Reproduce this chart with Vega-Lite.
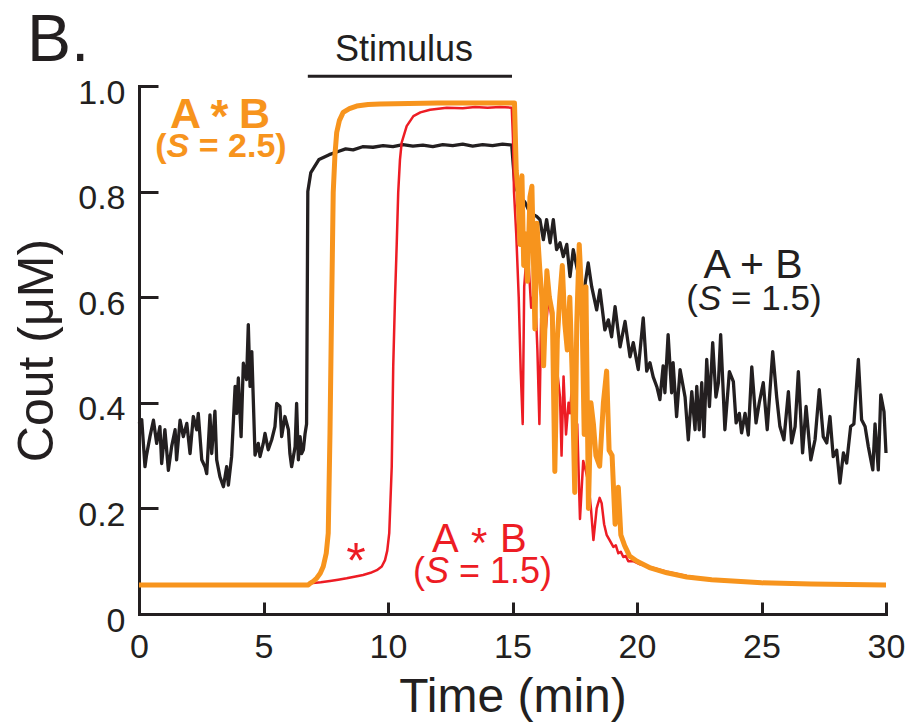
{
  "$schema": "https://vega.github.io/schema/vega-lite/v6.json",
  "width": 747,
  "height": 528,
  "autosize": {"type": "none"},
  "padding": {"left": 139, "top": 86, "right": 25, "bottom": 112},
  "background": "white",
  "config": {
    "view": {"stroke": null},
    "font": "Liberation Sans",
    "axis": {
      "grid": false,
      "domainColor": "#231f20",
      "domainWidth": 3,
      "domainCap": "square",
      "tickColor": "#231f20",
      "tickWidth": 3,
      "labelColor": "#231f20",
      "titleColor": "#231f20",
      "labelFont": "Liberation Sans",
      "titleFont": "Liberation Sans",
      "titleFontWeight": "normal",
      "labelFontSize": 34,
      "labelFlush": false,
      "labelOverlap": false
    }
  },
  "datasets": {
    "ab": [
      {"t":0.00,"v":0.36},{"t":0.11,"v":0.368},{"t":0.24,"v":0.279},{"t":0.30,"v":0.30},{"t":0.44,"v":0.336},{"t":0.58,"v":0.367},{"t":0.71,"v":0.323},{"t":0.84,"v":0.355},{"t":0.91,"v":0.285},{"t":1.04,"v":0.349},{"t":1.18,"v":0.272},{"t":1.31,"v":0.317},{"t":1.45,"v":0.349},{"t":1.51,"v":0.292},{"t":1.65,"v":0.367},{"t":1.78,"v":0.336},{"t":1.92,"v":0.361},{"t":2.05,"v":0.304},{"t":2.18,"v":0.374},{"t":2.32,"v":0.349},{"t":2.38,"v":0.380},{"t":2.52,"v":0.292},{"t":2.65,"v":0.279},{"t":2.72,"v":0.266},{"t":2.85,"v":0.377},{"t":2.92,"v":0.304},{"t":3.05,"v":0.384},{"t":3.12,"v":0.292},{"t":3.25,"v":0.260},{"t":3.39,"v":0.241},{"t":3.52,"v":0.279},{"t":3.59,"v":0.244},{"t":3.72,"v":0.298},{"t":3.86,"v":0.431},{"t":3.92,"v":0.380},{"t":3.99,"v":0.447},{"t":4.10,"v":0.336},{"t":4.19,"v":0.475},{"t":4.32,"v":0.444},{"t":4.39,"v":0.548},{"t":4.46,"v":0.431},{"t":4.53,"v":0.497},{"t":4.66,"v":0.301},{"t":4.79,"v":0.323},{"t":4.86,"v":0.298},{"t":4.99,"v":0.323},{"t":5.06,"v":0.342},{"t":5.19,"v":0.311},{"t":5.33,"v":0.330},{"t":5.46,"v":0.355},{"t":5.53,"v":0.399},{"t":5.66,"v":0.393},{"t":5.73,"v":0.336},{"t":5.86,"v":0.374},{"t":6.00,"v":0.349},{"t":6.06,"v":0.304},{"t":6.13,"v":0.279},{"t":6.27,"v":0.317},{"t":6.33,"v":0.399},{"t":6.40,"v":0.292},{"t":6.47,"v":0.336},{"t":6.53,"v":0.304},{"t":6.60,"v":0.311},{"t":6.67,"v":0.342},{"t":6.73,"v":0.36},{"t":6.78,"v":0.80},{"t":6.90,"v":0.836},{"t":7.23,"v":0.861},{"t":7.64,"v":0.870},{"t":8.0,"v":0.876},{"t":8.3,"v":0.881},{"t":8.6,"v":0.879},{"t":8.98,"v":0.885},{"t":9.4,"v":0.884},{"t":9.8,"v":0.887},{"t":10.2,"v":0.885},{"t":10.6,"v":0.889},{"t":11.0,"v":0.886},{"t":11.4,"v":0.888},{"t":11.8,"v":0.885},{"t":12.2,"v":0.889},{"t":12.6,"v":0.887},{"t":13.0,"v":0.890},{"t":13.4,"v":0.886},{"t":13.8,"v":0.889},{"t":14.2,"v":0.887},{"t":14.6,"v":0.890},{"t":14.97,"v":0.888},{"t":15.03,"v":0.85},{"t":15.10,"v":0.81},{"t":15.3,"v":0.79},{"t":15.5,"v":0.78},{"t":15.7,"v":0.76},{"t":15.97,"v":0.753},{"t":16.10,"v":0.747},{"t":16.24,"v":0.709},{"t":16.37,"v":0.747},{"t":16.51,"v":0.703},{"t":16.64,"v":0.747},{"t":16.77,"v":0.690},{"t":16.91,"v":0.703},{"t":17.04,"v":0.677},{"t":17.18,"v":0.700},{"t":17.31,"v":0.639},{"t":17.44,"v":0.690},{"t":17.58,"v":0.658},{"t":17.71,"v":0.63},{"t":17.84,"v":0.601},{"t":18.04,"v":0.665},{"t":18.18,"v":0.620},{"t":18.38,"v":0.576},{"t":18.51,"v":0.614},{"t":18.71,"v":0.538},{"t":18.85,"v":0.557},{"t":18.98,"v":0.525},{"t":19.12,"v":0.582},{"t":19.32,"v":0.506},{"t":19.52,"v":0.554},{"t":19.72,"v":0.487},{"t":19.85,"v":0.514},{"t":20.05,"v":0.463},{"t":20.25,"v":0.561},{"t":20.39,"v":0.46},{"t":20.52,"v":0.476},{"t":20.65,"v":0.449},{"t":20.80,"v":0.43},{"t":20.92,"v":0.406},{"t":21.05,"v":0.47},{"t":21.12,"v":0.419},{"t":21.25,"v":0.529},{"t":21.39,"v":0.419},{"t":21.45,"v":0.476},{"t":21.59,"v":0.374},{"t":21.73,"v":0.463},{"t":21.93,"v":0.411},{"t":22.06,"v":0.330},{"t":22.20,"v":0.421},{"t":22.33,"v":0.349},{"t":22.40,"v":0.431},{"t":22.50,"v":0.349},{"t":22.60,"v":0.438},{"t":22.69,"v":0.336},{"t":22.80,"v":0.482},{"t":22.91,"v":0.393},{"t":23.04,"v":0.514},{"t":23.17,"v":0.411},{"t":23.27,"v":0.438},{"t":23.36,"v":0.529},{"t":23.53,"v":0.349},{"t":23.71,"v":0.459},{"t":23.87,"v":0.44},{"t":23.98,"v":0.362},{"t":24.11,"v":0.38},{"t":24.20,"v":0.343},{"t":24.34,"v":0.38},{"t":24.47,"v":0.339},{"t":24.61,"v":0.468},{"t":24.78,"v":0.362},{"t":24.91,"v":0.400},{"t":25.07,"v":0.438},{"t":25.23,"v":0.349},{"t":25.45,"v":0.497},{"t":25.61,"v":0.411},{"t":25.74,"v":0.355},{"t":25.90,"v":0.330},{"t":26.08,"v":0.421},{"t":26.21,"v":0.324},{"t":26.35,"v":0.355},{"t":26.48,"v":0.459},{"t":26.65,"v":0.305},{"t":26.79,"v":0.393},{"t":26.98,"v":0.292},{"t":27.15,"v":0.330},{"t":27.32,"v":0.425},{"t":27.48,"v":0.336},{"t":27.62,"v":0.324},{"t":27.75,"v":0.374},{"t":27.88,"v":0.298},{"t":28.02,"v":0.31},{"t":28.15,"v":0.248},{"t":28.29,"v":0.305},{"t":28.42,"v":0.286},{"t":28.58,"v":0.355},{"t":28.71,"v":0.36},{"t":28.89,"v":0.482},{"t":29.02,"v":0.368},{"t":29.16,"v":0.355},{"t":29.29,"v":0.317},{"t":29.47,"v":0.273},{"t":29.56,"v":0.36},{"t":29.69,"v":0.273},{"t":29.79,"v":0.415},{"t":29.92,"v":0.383},{"t":30.0,"v":0.305}
    ],
    "ab15": [
      {"t":0,"v":0.055},{"t":6.78,"v":0.055},{"t":6.87,"v":0.058},{"t":7.3,"v":0.060},{"t":7.67,"v":0.0625},{"t":8.0,"v":0.065},{"t":8.34,"v":0.0676},{"t":8.7,"v":0.071},{"t":9.0,"v":0.074},{"t":9.3,"v":0.078},{"t":9.55,"v":0.083},{"t":9.75,"v":0.09},{"t":9.88,"v":0.102},{"t":9.97,"v":0.12},{"t":10.05,"v":0.153},{"t":10.15,"v":0.279},{"t":10.21,"v":0.469},{"t":10.28,"v":0.595},{"t":10.35,"v":0.70},{"t":10.41,"v":0.798},{"t":10.48,"v":0.86},{"t":10.55,"v":0.893},{"t":10.75,"v":0.924},{"t":11.02,"v":0.943},{"t":11.3,"v":0.950},{"t":11.69,"v":0.955},{"t":12.36,"v":0.959},{"t":13.0,"v":0.958},{"t":13.5,"v":0.960},{"t":14.0,"v":0.959},{"t":14.5,"v":0.960},{"t":14.97,"v":0.959},{"t":15.02,"v":0.90},{"t":15.06,"v":0.80},{"t":15.15,"v":0.72},{"t":15.25,"v":0.60},{"t":15.33,"v":0.46},{"t":15.41,"v":0.36},{"t":15.47,"v":0.62},{"t":15.6,"v":0.70},{"t":15.75,"v":0.58},{"t":15.9,"v":0.62},{"t":16.0,"v":0.50},{"t":16.08,"v":0.36},{"t":16.15,"v":0.56},{"t":16.3,"v":0.52},{"t":16.45,"v":0.60},{"t":16.6,"v":0.55},{"t":16.75,"v":0.48},{"t":16.91,"v":0.41},{"t":16.97,"v":0.30},{"t":17.05,"v":0.45},{"t":17.15,"v":0.34},{"t":17.25,"v":0.40},{"t":17.31,"v":0.38},{"t":17.4,"v":0.44},{"t":17.51,"v":0.33},{"t":17.6,"v":0.36},{"t":17.71,"v":0.18},{"t":17.84,"v":0.29},{"t":17.95,"v":0.27},{"t":18.04,"v":0.25},{"t":18.15,"v":0.20},{"t":18.25,"v":0.14},{"t":18.38,"v":0.20},{"t":18.5,"v":0.22},{"t":18.58,"v":0.21},{"t":18.68,"v":0.17},{"t":18.78,"v":0.15},{"t":18.9,"v":0.14},{"t":19.05,"v":0.127},{"t":19.15,"v":0.13},{"t":19.25,"v":0.115},{"t":19.35,"v":0.118},{"t":19.45,"v":0.108},{"t":19.55,"v":0.11},{"t":19.65,"v":0.10},{"t":19.85,"v":0.10},{"t":20.12,"v":0.094},{"t":20.52,"v":0.089},{"t":21.19,"v":0.080},{"t":22.0,"v":0.072},{"t":22.5,"v":0.068},{"t":23.5,"v":0.063},{"t":25.0,"v":0.059},{"t":27.0,"v":0.057},{"t":30.0,"v":0.055}
    ],
    "ab25": [
      {"t":0,"v":0.055},{"t":6.8,"v":0.055},{"t":6.87,"v":0.058},{"t":7.0,"v":0.062},{"t":7.14,"v":0.068},{"t":7.28,"v":0.077},{"t":7.40,"v":0.09},{"t":7.52,"v":0.115},{"t":7.60,"v":0.153},{"t":7.67,"v":0.343},{"t":7.74,"v":0.595},{"t":7.80,"v":0.798},{"t":7.87,"v":0.87},{"t":7.94,"v":0.912},{"t":8.05,"v":0.935},{"t":8.20,"v":0.95},{"t":8.45,"v":0.957},{"t":8.74,"v":0.962},{"t":9.2,"v":0.965},{"t":9.68,"v":0.966},{"t":12.0,"v":0.968},{"t":15.08,"v":0.968},{"t":15.15,"v":0.84},{"t":15.22,"v":0.80},{"t":15.30,"v":0.70},{"t":15.38,"v":0.83},{"t":15.45,"v":0.66},{"t":15.52,"v":0.72},{"t":15.60,"v":0.63},{"t":15.70,"v":0.79},{"t":15.78,"v":0.81},{"t":15.90,"v":0.54},{"t":15.98,"v":0.74},{"t":16.10,"v":0.65},{"t":16.18,"v":0.60},{"t":16.25,"v":0.47},{"t":16.38,"v":0.65},{"t":16.48,"v":0.60},{"t":16.60,"v":0.57},{"t":16.70,"v":0.27},{"t":16.80,"v":0.52},{"t":16.90,"v":0.60},{"t":17.00,"v":0.66},{"t":17.10,"v":0.55},{"t":17.20,"v":0.50},{"t":17.30,"v":0.60},{"t":17.40,"v":0.45},{"t":17.50,"v":0.23},{"t":17.58,"v":0.55},{"t":17.68,"v":0.70},{"t":17.78,"v":0.60},{"t":17.88,"v":0.34},{"t":17.95,"v":0.62},{"t":18.05,"v":0.20},{"t":18.15,"v":0.40},{"t":18.25,"v":0.36},{"t":18.35,"v":0.30},{"t":18.50,"v":0.28},{"t":18.65,"v":0.40},{"t":18.78,"v":0.46},{"t":18.88,"v":0.31},{"t":19.00,"v":0.30},{"t":19.12,"v":0.17},{"t":19.25,"v":0.24},{"t":19.35,"v":0.15},{"t":19.50,"v":0.13},{"t":19.70,"v":0.11},{"t":20.0,"v":0.10},{"t":20.5,"v":0.088},{"t":21.2,"v":0.078},{"t":22.0,"v":0.070},{"t":23.0,"v":0.065},{"t":25.0,"v":0.059},{"t":27.0,"v":0.057},{"t":30.0,"v":0.055}
    ]
  },
  "layer": [
    {
      "data": {"name": "ab"},
      "mark": {"type": "line", "color": "#231f20", "strokeWidth": 3.3, "strokeJoin": "round"},
      "encoding": {
        "x": {"field": "t", "type": "quantitative", "scale": {"domain": [0, 30], "nice": false, "zero": false},
          "axis": {"title": "Time (min)", "values": [0, 5, 10, 15, 20, 25, 30], "tickSize": -12, "labelPadding": 28, "titleFontSize": 48, "titlePadding": 9}},
        "y": {"field": "v", "type": "quantitative", "scale": {"domain": [0, 1], "nice": false},
          "axis": {"title": "Cout (μM)", "values": [0, 0.2, 0.4, 0.6, 0.8, 1], "tickSize": -19, "labelPadding": 33, "labelOffset": 7, "labelExpr": "datum.value == 0 ? '0' : format(datum.value, '.1f')", "titleFontSize": 50, "titlePadding": 15}}
      }
    },
    {
      "data": {"name": "ab15"},
      "mark": {"type": "line", "color": "#ed1c24", "strokeWidth": 2.5, "strokeJoin": "round"},
      "encoding": {"x": {"field": "t", "type": "quantitative"}, "y": {"field": "v", "type": "quantitative"}}
    },
    {
      "data": {"name": "ab25"},
      "mark": {"type": "line", "color": "#f7941d", "strokeWidth": 5, "strokeJoin": "round"},
      "encoding": {"x": {"field": "t", "type": "quantitative"}, "y": {"field": "v", "type": "quantitative"}}
    },
    {
      "data": {"values": [{"t": 6.78, "t2": 14.98, "v": 1.0186}]},
      "mark": {"type": "rule", "color": "#231f20", "strokeWidth": 3},
      "encoding": {"x": {"field": "t", "type": "quantitative"}, "x2": {"field": "t2"}, "y": {"field": "v", "type": "quantitative"}}
    },
    {
      "data": {"values": [{"t": 10.64, "v": 1.0465, "label": "Stimulus"}]},
      "mark": {"type": "text", "font": "Liberation Sans", "fontSize": 36, "color": "#231f20", "align": "center", "baseline": "alphabetic"},
      "encoding": {"x": {"field": "t", "type": "quantitative"}, "y": {"field": "v", "type": "quantitative"}, "text": {"field": "label"}}
    },
    {
      "data": {"values": [{"t": 24.66, "v": 0.637, "label": "A + B"}]},
      "mark": {"type": "text", "font": "Liberation Sans", "fontSize": 41, "color": "#231f20", "align": "center", "baseline": "alphabetic"},
      "encoding": {"x": {"field": "t", "type": "quantitative"}, "y": {"field": "v", "type": "quantitative"}, "text": {"field": "label"}}
    },
    {
      "data": {"values": [{"t": -4.5, "v": 1.0465, "label": "B."}]},
      "mark": {"type": "text", "font": "Liberation Sans", "fontSize": 66, "color": "#231f20", "align": "left", "baseline": "alphabetic"},
      "encoding": {"x": {"field": "t", "type": "quantitative"}, "y": {"field": "v", "type": "quantitative"}, "text": {"field": "label"}}
    },
    {
      "data": {"values": [{"t": 1.24, "v": 0.921, "label": "A"}, {"t": 4.02, "v": 0.921, "label": "B"}]},
      "mark": {"type": "text", "font": "Liberation Sans", "fontSize": 43, "fontWeight": "bold", "color": "#f7941d", "align": "left", "baseline": "alphabetic"},
      "encoding": {"x": {"field": "t", "type": "quantitative"}, "y": {"field": "v", "type": "quantitative"}, "text": {"field": "label"}}
    },
    {
      "data": {"values": [{"t": 3.23, "v": 0.912, "label": "*"}]},
      "mark": {"type": "text", "font": "Liberation Sans", "fontSize": 46, "fontWeight": "bold", "color": "#f7941d", "align": "center", "baseline": "alphabetic"},
      "encoding": {"x": {"field": "t", "type": "quantitative"}, "y": {"field": "v", "type": "quantitative"}, "text": {"field": "label"}}
    },
    {
      "data": {"values": [{"t": 1.11, "v": 0.866, "label": "("}]},
      "mark": {"type": "text", "font": "Liberation Sans", "fontSize": 34, "fontWeight": "bold", "color": "#f7941d", "align": "right", "baseline": "alphabetic"},
      "encoding": {"x": {"field": "t", "type": "quantitative"}, "y": {"field": "v", "type": "quantitative"}, "text": {"field": "label"}}
    },
    {
      "data": {"values": [{"t": 1.56, "v": 0.866, "label": "S"}]},
      "mark": {"type": "text", "font": "Liberation Sans", "fontSize": 34, "fontWeight": "bold", "fontStyle": "italic", "color": "#f7941d", "align": "center", "baseline": "alphabetic"},
      "encoding": {"x": {"field": "t", "type": "quantitative"}, "y": {"field": "v", "type": "quantitative"}, "text": {"field": "label"}}
    },
    {
      "data": {"values": [{"t": 2.40, "v": 0.866, "label": "= 2.5)"}]},
      "mark": {"type": "text", "font": "Liberation Sans", "fontSize": 34, "fontWeight": "bold", "color": "#f7941d", "align": "left", "baseline": "alphabetic"},
      "encoding": {"x": {"field": "t", "type": "quantitative"}, "y": {"field": "v", "type": "quantitative"}, "text": {"field": "label"}}
    },
    {
      "data": {"values": [{"t": 22.45, "v": 0.576, "label": "("}]},
      "mark": {"type": "text", "font": "Liberation Sans", "fontSize": 35, "color": "#231f20", "align": "right", "baseline": "alphabetic"},
      "encoding": {"x": {"field": "t", "type": "quantitative"}, "y": {"field": "v", "type": "quantitative"}, "text": {"field": "label"}}
    },
    {
      "data": {"values": [{"t": 22.92, "v": 0.576, "label": "S"}]},
      "mark": {"type": "text", "font": "Liberation Sans", "fontSize": 35, "fontStyle": "italic", "color": "#231f20", "align": "center", "baseline": "alphabetic"},
      "encoding": {"x": {"field": "t", "type": "quantitative"}, "y": {"field": "v", "type": "quantitative"}, "text": {"field": "label"}}
    },
    {
      "data": {"values": [{"t": 23.78, "v": 0.576, "label": "= 1.5)"}]},
      "mark": {"type": "text", "font": "Liberation Sans", "fontSize": 35, "color": "#231f20", "align": "left", "baseline": "alphabetic"},
      "encoding": {"x": {"field": "t", "type": "quantitative"}, "y": {"field": "v", "type": "quantitative"}, "text": {"field": "label"}}
    },
    {
      "data": {"values": [{"t": 11.77, "v": 0.1175, "label": "A"}, {"t": 14.5, "v": 0.1175, "label": "B"}]},
      "mark": {"type": "text", "font": "Liberation Sans", "fontSize": 40, "color": "#ed1c24", "align": "left", "baseline": "alphabetic"},
      "encoding": {"x": {"field": "t", "type": "quantitative"}, "y": {"field": "v", "type": "quantitative"}, "text": {"field": "label"}}
    },
    {
      "data": {"values": [{"t": 13.66, "v": 0.108, "label": "*"}]},
      "mark": {"type": "text", "font": "Liberation Sans", "fontSize": 42, "color": "#ed1c24", "align": "center", "baseline": "alphabetic"},
      "encoding": {"x": {"field": "t", "type": "quantitative"}, "y": {"field": "v", "type": "quantitative"}, "text": {"field": "label"}}
    },
    {
      "data": {"values": [{"t": 11.49, "v": 0.0588, "label": "("}]},
      "mark": {"type": "text", "font": "Liberation Sans", "fontSize": 36, "color": "#ed1c24", "align": "right", "baseline": "alphabetic"},
      "encoding": {"x": {"field": "t", "type": "quantitative"}, "y": {"field": "v", "type": "quantitative"}, "text": {"field": "label"}}
    },
    {
      "data": {"values": [{"t": 11.97, "v": 0.0588, "label": "S"}]},
      "mark": {"type": "text", "font": "Liberation Sans", "fontSize": 36, "fontStyle": "italic", "color": "#ed1c24", "align": "center", "baseline": "alphabetic"},
      "encoding": {"x": {"field": "t", "type": "quantitative"}, "y": {"field": "v", "type": "quantitative"}, "text": {"field": "label"}}
    },
    {
      "data": {"values": [{"t": 12.85, "v": 0.0588, "label": "= 1.5)"}]},
      "mark": {"type": "text", "font": "Liberation Sans", "fontSize": 36, "color": "#ed1c24", "align": "left", "baseline": "alphabetic"},
      "encoding": {"x": {"field": "t", "type": "quantitative"}, "y": {"field": "v", "type": "quantitative"}, "text": {"field": "label"}}
    },
    {
      "data": {"values": [{"t": 8.71, "v": 0.068, "label": "*"}]},
      "mark": {"type": "text", "font": "Liberation Sans", "fontSize": 50, "color": "#ed1c24", "align": "center", "baseline": "alphabetic"},
      "encoding": {"x": {"field": "t", "type": "quantitative"}, "y": {"field": "v", "type": "quantitative"}, "text": {"field": "label"}}
    }
  ]
}
